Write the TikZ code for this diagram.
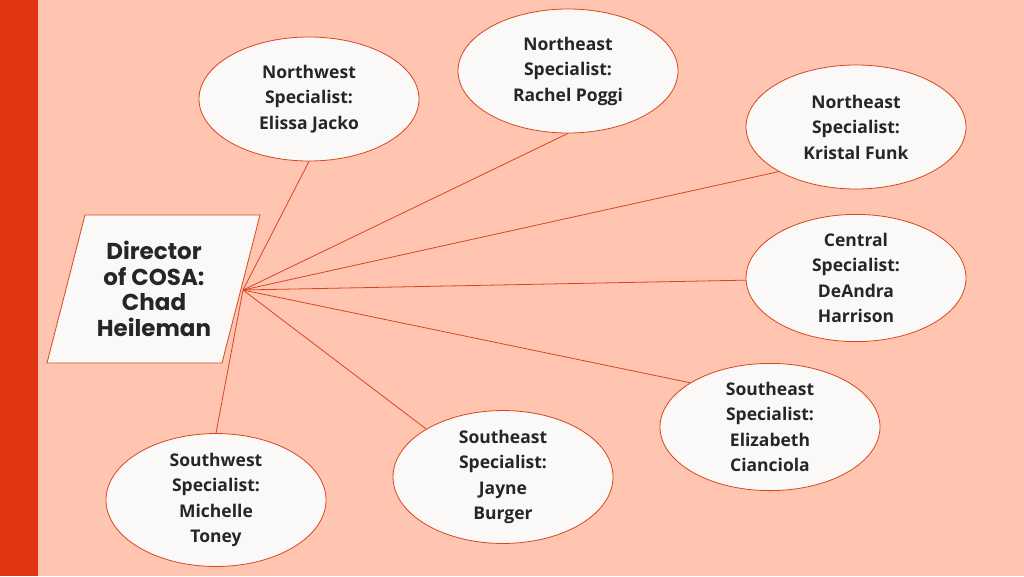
\documentclass[tikz,border=0pt]{standalone}
\usepackage{fontspec}
\setmainfont{Open Sans}
\newfontfamily\dirfont{Poppins}
\usetikzlibrary{shapes.geometric}
\definecolor{bg}{HTML}{FFC5B1}
\definecolor{bar}{HTML}{E03510}
\definecolor{edge}{HTML}{D9451F}
\definecolor{wht}{HTML}{FAF9F7}
\tikzset{
  spec/.style={ellipse,draw=edge,fill=wht,line width=0.8pt,minimum width=220pt,minimum height=124pt,inner sep=0pt,
    align=center,font=\bfseries\fontsize{17.5}{25.5}\selectfont,text=black!85},
  conn/.style={draw=edge,line width=0.8pt}
}
\begin{document}
\begin{tikzpicture}[x=1pt,y=-1pt]
\fill[bg] (0,0) rectangle (1024,576);
\fill[bar] (0,0) rectangle (38,576);
\useasboundingbox (0,0) rectangle (1024,576);
\fill[wht,draw=edge,line width=0.8pt] (85,215) -- (260,215) -- (222,363) -- (47,363) -- cycle;
\node[align=center,font=\dirfont\bfseries\fontsize{23}{25.5}\selectfont,text=black!85] (dirt) at (154,289) {Director\\of COSA:\\Chad\\Heileman};
\coordinate (hub) at (243,290);
\node[spec] (nw) at (309,99) {Northwest\\Specialist:\\Elissa Jacko};
\node[spec] (ne1) at (568,71) {Northeast\\Specialist:\\Rachel Poggi};
\node[spec] (ne2) at (856,127) {Northeast\\Specialist:\\Kristal Funk};
\node[spec] (c) at (856,278) {Central\\Specialist:\\DeAndra\\Harrison};
\node[spec] (se1) at (770,427) {Southeast\\Specialist:\\Elizabeth\\Cianciola};
\node[spec] (se2) at (503,477) {Southeast\\Specialist:\\Jayne\\Burger};
\node[spec] (sw) at (216,500) {Southwest\\Specialist:\\Michelle\\Toney};
\path[conn] (hub) -- (nw.south);
\path[conn] (hub) -- (ne1.south);
\path[conn] (hub) -- (ne2.210);
\path[conn] (hub) -- (c);
\path[conn] (hub) -- (se1.151);
\path[conn] (hub) -- (se2.148);
\path[conn] (hub) -- (sw.north);
\end{tikzpicture}
\end{document}
